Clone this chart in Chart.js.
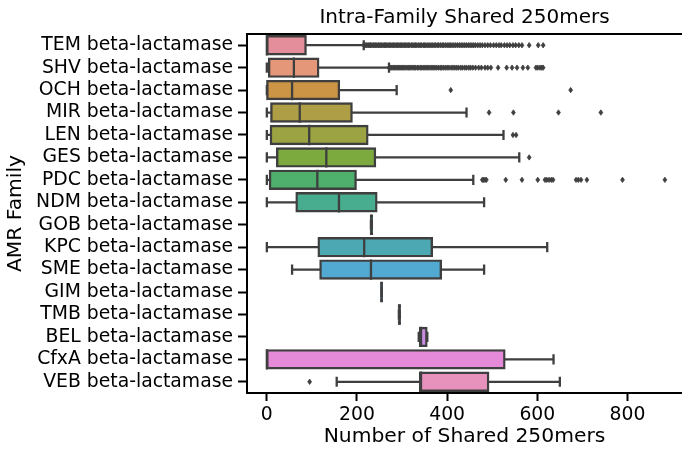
<!DOCTYPE html>
<html><head><meta charset="utf-8">
<script src="https://cdn.jsdelivr.net/npm/chart.js@4/dist/chart.umd.min.js"></script>
<style>html,body{margin:0;padding:0;background:#fff;overflow:hidden}</style>
</head><body>
<canvas id="c" width="682" height="449"></canvas>
<script>
const categories = ["TEM beta-lactamase","SHV beta-lactamase","OCH beta-lactamase","MIR beta-lactamase","LEN beta-lactamase","GES beta-lactamase","PDC beta-lactamase","NDM beta-lactamase","GOB beta-lactamase","KPC beta-lactamase","SME beta-lactamase","GIM beta-lactamase","TMB beta-lactamase","BEL beta-lactamase","CfxA beta-lactamase","VEB beta-lactamase"];
const whiskerLow  = [0, 0, 0, 0, 0, 0, 0, 0, 231, 0, 56, 254, 293, 337, 0, 155];
const q1          = [0, 5, 0, 10, 9, 23, 7, 66, 231, 115, 119, 254, 293, 340, 0, 340];
const median      = [0, 60, 56, 73, 94, 132, 112, 160, 232, 216, 231, 254.5, 294, 342, 0, 342];
const q3          = [86, 114, 160, 188, 223, 240, 197, 243, 233, 366, 386, 255, 295, 354, 527, 491];
const whiskerHigh = [215, 271, 288, 443, 525, 560, 458, 482, 233, 622, 482, 255, 295, 356, 636, 650];

const outliersTEM = [215,217,220,222,225,228,230,233,236,238,241,244,247,249,252,255,258,261,263,266,269,272,275,278,281,284,287,290,293,296,299,302,305,308,311,314,317,321,324,327,330,333,337,340,343,347,350,353,357,360,364,367,371,374,378,381,385,389,392,396,400,404,407,411,415,419,423,427,431,435,439,443,447,451,455,459,463,468,473,478,484,490,496,503,509,515,520,527,533,539,546,552,559,566,582,602,613];
const outliersSHV = [271,274,277,280,283,286,289,292,295,298,301,304,307,311,314,317,320,324,327,330,334,337,341,344,348,351,355,358,362,366,369,373,377,381,385,388,392,396,400,404,409,413,417,421,425,430,434,439,443,448,452,457,463,470,476,484,490,497,513,532,544,555,568,579,597,601,606,610,613];
const outliersOCH = [408, 674];
const outliersMIR = [493, 547, 647, 741];
const outliersLEN = [546, 553];
const outliersGES = [582];
const outliersPDC = [478,481,484,487,530,566,601,617,621,626,631,635,686,691,697,710,789,883];
const outliersVEB = [95];
const outliers = [outliersTEM, outliersSHV, outliersOCH, outliersMIR, outliersLEN, outliersGES, outliersPDC, [], [], [], [], [], [], [], [], outliersVEB];

const xTickValues = [0, 200, 400, 600, 800];

const palette = ["#e48e9b","#e59779","#cc9545","#ae9e45","#9ca342","#7daa3f","#4fb06d","#48ad8e","#49ab9f","#4ca9b4","#52a9d2","#6ea2e2","#a096e5","#c88ce3","#e58ad8","#e791bd"];
const edgeColor = "#3f3f3f";
const FONT = "'DejaVu Sans', sans-serif";
const INFLATE = 1.2;

const boxPlugin = {
  id: 'boxParts',
  afterDatasetsDraw(chart) {
    const ctx = chart.ctx, xs = chart.scales.x, ys = chart.scales.y, area = chart.chartArea;
    const meta = chart.getDatasetMeta(0);
    const px = v => xs.getPixelForValue(v);
    ctx.save();
    ctx.beginPath();
    ctx.rect(area.left, area.top, area.right - area.left, area.bottom - area.top);
    ctx.clip();
    ctx.strokeStyle = edgeColor;
    ctx.fillStyle = edgeColor;
    ctx.lineWidth = 2.3;
    categories.forEach((c, i) => {
      const yc = ys.getPixelForValue(i);
      const half = meta.data[i].height / 2 + INFLATE;
      const capHalf = half * 0.5;
      ctx.lineWidth = 2.3;
      ctx.beginPath();
      ctx.moveTo(px(whiskerLow[i]), yc); ctx.lineTo(px(q1[i]), yc);
      ctx.moveTo(px(q3[i]), yc); ctx.lineTo(px(whiskerHigh[i]), yc);
      ctx.moveTo(px(whiskerLow[i]), yc - capHalf); ctx.lineTo(px(whiskerLow[i]), yc + capHalf);
      ctx.moveTo(px(whiskerHigh[i]), yc - capHalf); ctx.lineTo(px(whiskerHigh[i]), yc + capHalf);
      ctx.moveTo(px(median[i]), yc - half); ctx.lineTo(px(median[i]), yc + half);
      ctx.stroke();
      ctx.lineWidth = 0.8;
      outliers[i].forEach(v => {
        const x = px(v);
        ctx.beginPath();
        ctx.moveTo(x, yc - 2.7); ctx.lineTo(x + 1.9, yc); ctx.lineTo(x, yc + 2.7); ctx.lineTo(x - 1.9, yc);
        ctx.closePath(); ctx.fill(); ctx.stroke();
      });
    });
    ctx.restore();
    ctx.save();
    ctx.strokeStyle = '#000';
    ctx.lineWidth = 2;
    ctx.beginPath();
    ctx.moveTo(area.left - 1, area.top); ctx.lineTo(area.right, area.top);
    ctx.stroke();
    ctx.fillStyle = '#000';
    ctx.font = "20px " + FONT;
    ctx.textAlign = 'center';
    ctx.textBaseline = 'middle';
    ctx.fillText("Intra-Family Shared 250mers", (area.left + area.right) / 2, 18);
    ctx.restore();
  }
};

new Chart(document.getElementById('c'), {
  type: 'bar',
  data: {
    labels: categories,
    datasets: [{
      data: categories.map((c, i) => [q1[i], q3[i]]),
      backgroundColor: palette,
      borderColor: edgeColor,
      borderWidth: 2.4,
      borderSkipped: false,
      inflateAmount: INFLATE,
      categoryPercentage: 0.8,
      barPercentage: 1.0
    }]
  },
  options: {
    indexAxis: 'y',
    responsive: false,
    animation: false,
    devicePixelRatio: 1,
    layout: { padding: { top: 34, left: 0, right: 0, bottom: 0 } },
    plugins: { legend: { display: false }, tooltip: { enabled: false } },
    scales: {
      x: {
        type: 'linear', min: -44, max: 921,
        afterBuildTicks: s => { s.ticks = xTickValues.map(v => ({ value: v })); },
        afterFit: s => { s.height = 56; },
        grid: { drawOnChartArea: false, drawTicks: true, tickLength: 8, tickWidth: 2, tickColor: '#000' },
        border: { display: true, color: '#000', width: 2 },
        ticks: { font: { family: FONT, size: 18.8 }, color: '#000', padding: 3 },
        title: { display: true, text: 'Number of Shared 250mers', font: { family: FONT, size: 20.3 }, color: '#000', padding: { top: 0, bottom: 0 } }
      },
      y: {
        type: 'category',
        afterFit: s => { s.width = 247; },
        grid: { offset: false, drawOnChartArea: false, drawTicks: true, tickLength: 9, tickWidth: 2, tickColor: '#000' },
        border: { display: true, color: '#000', width: 2 },
        ticks: { font: { family: FONT, size: 18.8 }, color: '#000', padding: 5, autoSkip: false },
        title: { display: true, text: 'AMR Family', font: { family: FONT, size: 20.3 }, color: '#000', padding: { top: 4, bottom: 0 } }
      }
    }
  },
  plugins: [boxPlugin]
});
</script>
</body></html>
